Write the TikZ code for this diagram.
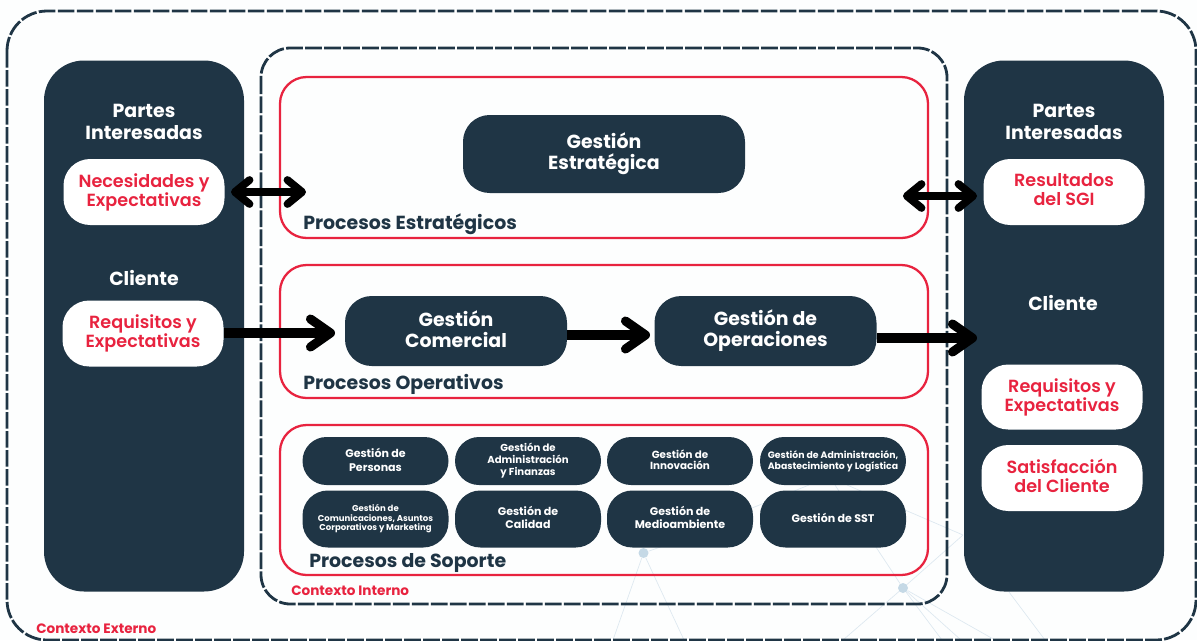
\documentclass[tikz,border=0pt]{standalone}
\usepackage{fontspec}
\setmainfont{Poppins}[BoldFont={Poppins}]
\newfontfamily\pbold{Poppins}[UprightFont={* Bold}]
\newfontfamily\psemi{Poppins}[UprightFont={* SemiBold}]
\usetikzlibrary{arrows.meta}
\definecolor{navy}{HTML}{1F3545}
\definecolor{crim}{HTML}{E8233F}
\definecolor{pale}{HTML}{DDE8F0}
\definecolor{dotc}{HTML}{C5D9E6}
\definecolor{bgc}{HTML}{FDFEFE}
\tikzset{
 x=.75pt,y=-.75pt,
 dashbox/.style={draw=navy,line width=2.1pt,dash pattern=on 12.5pt off 1.75pt,rounded corners=#1},
 redbox/.style={draw=crim,line width=1.7pt,rounded corners=#1},
 panel/.style={fill=navy,rounded corners=#1},
 balanced/.style={execute at begin node={\rule{0pt}{.84em}},execute at end node={\rule[-.25em]{0pt}{0pt}}},
 pill/.style args={#1/#2/#3}{fill=navy,rounded corners=#3,minimum width=#1*.75pt,minimum height=#2*.75pt,inner sep=0pt,align=center,text=white,balanced},
 wpill/.style args={#1/#2/#3}{fill=white,rounded corners=#3,minimum width=#1*.75pt,minimum height=#2*.75pt,inner sep=0pt,align=center,text=crim,balanced,font=\fontsize{13.2}{14.3}\selectfont\psemi},
 head/.style={text=white,align=center,font=\fontsize{14.2}{16}\selectfont\pbold,inner sep=0pt},
 proc/.style={text=navy,font=\fontsize{14.2}{16}\selectfont\pbold,inner sep=0pt,anchor=west},
 ctx/.style={text=crim,font=\fontsize{10.2}{12}\selectfont\pbold,inner sep=0pt,anchor=west},
 big/.style={font=\fontsize{14.2}{15.8}\selectfont\pbold},
 fa/.style={font=\fontsize{8.3}{10.3}\selectfont\pbold},
 fah/.style={font=\fontsize{8.3}{9.7}\selectfont\pbold},
 fb/.style={font=\fontsize{7.6}{9}\selectfont\pbold},
 fi/.style={font=\fontsize{7.75}{8.4}\selectfont\pbold},
 fc/.style={font=\fontsize{6.4}{7.1}\selectfont\pbold},
 fd/.style={font=\fontsize{7}{8.2}\selectfont\pbold},
 fl/.style={draw=black,line width=7.6pt,-{Straight Barb[length=15pt,width=21pt,line width=6.8pt,round]}},
 dfl/.style={draw=black,line width=6.2pt,{Straight Barb[length=11pt,width=18pt,line width=5.8pt,round]}-{Straight Barb[length=11pt,width=18pt,line width=5.8pt,round]}},
 web/.style={draw=pale,line width=.5pt},
 dotn/.style={circle,fill=dotc,minimum size=7.5pt,inner sep=0pt},
}
\begin{document}
\begin{tikzpicture}
\useasboundingbox[fill=bgc] (0,0) rectangle (1197,640);
% faint background network
\node[dotn] (d1) at (643.5,553) {};
\node[dotn] (d2) at (903,588) {};
\coordinate (w1) at (613,640); \coordinate (w2) at (684,640);
\coordinate (w3) at (843,640); \coordinate (w4) at (942,640);
\coordinate (w5) at (961,640); \coordinate (w6) at (995,640);
\coordinate (w7) at (1045,640); \coordinate (w8) at (963,535);
\coordinate (w10) at (835,485); \coordinate (w11) at (1009,592);
\coordinate (w12) at (847,485); \coordinate (w13) at (809,485);
\coordinate (w14) at (752,508); \coordinate (w15) at (655,549);
\coordinate (w16) at (680,540);
\draw[web] (d1)--(w1) (d1)--(w2) (d2)--(w3) (d2)--(w4) (d2)--(w5) (d2)--(w6) (d2)--(w8) (d2)--(w10) (w11)--(w7) (w12)--(w8) (w13)--(w14) (d1)--(w16);
% containers
\draw[dashbox=30pt] (7,11) rectangle (1196,640);
\draw[dashbox=22pt] (261,48) rectangle (947,604);
\node[panel=30pt,minimum width=150pt,minimum height=398.25pt,inner sep=0pt] (left) at (144,326) {};
\node[panel=30pt,minimum width=150pt,minimum height=398.25pt,inner sep=0pt] (right) at (1064,326) {};
\draw[redbox=20pt] (280,77) rectangle (928,238);
\draw[redbox=20pt] (280,265) rectangle (928,398);
\draw[redbox=20pt] (280,425) rectangle (928,575);
% left panel
\node[head] (lh1) at (144,122) {Partes\\Interesadas};
\node[wpill=161/66/20pt] (nec) at (144,192) {Necesidades y\\Expectativas};
\node[head] (lh2) at (144,278) {Cliente};
\node[wpill=161/66/20pt] (req) at (143,333.5) {Requisitos y\\Expectativas};
% right panel
\node[head] (rh1) at (1064,122) {Partes\\Interesadas};
\node[wpill=161/66/20pt] (res) at (1064,192) {Resultados\\del SGI};
\node[head] (rh2) at (1063,303) {Cliente};
\node[wpill=161/65/20pt] (req2) at (1062,397) {Requisitos y\\Expectativas};
\node[wpill=161/66/20pt] (sat) at (1062,478) {Satisfacción\\del Cliente};
% main pills
\node[pill=282/78/20pt,big] (ge) at (604,154) {Gestión\\Estratégica};
\node[pill=222/70/20pt,big] (gc) at (456,331) {Gestión\\Comercial};
\node[pill=222/70/20pt,big] (go) at (765.5,331) {Gestión de\\Operaciones};
\node[proc] (pe) at (303,224) {Procesos Estratégicos};
\node[proc] (po) at (303,384) {Procesos Operativos};
\node[proc] (ps) at (309,563) {Procesos de Soporte};
% support pills
\node[pill=146/48/18pt,fa] (s1) at (375.5,461) {Gestión de\\Personas};
\node[pill=146/48/18pt,fb] (s2) at (528,461) {Gestión de\\Administración\\y Finanzas};
\node[pill=146/48/18pt,fi] (s3) at (680,461) {Gestión de\\Innovación};
\node[pill=146/48/18pt,fd] (s4) at (833,461) {Gestión de Administración,\\Abastecimiento y Logística};
\node[pill=146/57/19pt,fc] (s5) at (375.5,519) {Gestión de\\Comunicaciones, Asuntos\\Corporativos y Marketing};
\node[pill=146/57/19pt,fah] (s6) at (528,519) {Gestión de\\Calidad};
\node[pill=146/57/19pt,fah] (s7) at (680,519) {Gestión de\\Medioambiente};
\node[pill=146/57/19pt,fa] (s8) at (833,519) {Gestión de SST};
% context labels
\node[ctx] (ci) at (291,591) {Contexto Interno};
\node[ctx] (ce) at (36,629) {Contexto Externo};
% connectors
\coordinate (a0) at (231,192);
\coordinate (a1) at (306,192);
\coordinate (a2) at (903,196);
\coordinate (a2e) at (977,196);
\coordinate (b1) at (335,333);
\coordinate (b2) at (650,335);
\coordinate (a3) at (977,338);
\draw[dfl] (a0)--(a1);
\draw[dfl] (a2)--(a2e);
\draw[fl] (req.east|-b1)--(b1);
\draw[fl] (gc.east|-b2)--(b2);
\draw[fl] (go.east|-a3)--(a3);
\end{tikzpicture}
\end{document}
